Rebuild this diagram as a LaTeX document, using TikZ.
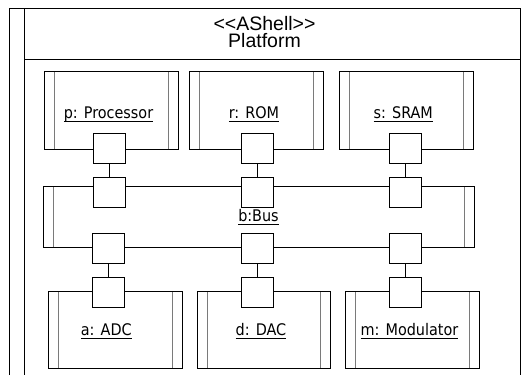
\documentclass[tikz,border=0pt]{standalone}
\usepackage{fontspec}
\setmainfont{Liberation Sans}
\newfontfamily\labfont{DejaVu Sans Condensed}
\newfontfamily\hdrfont{Liberation Sans}
\newcommand\myul[1]{\setbox0\hbox{#1}\rlap{\rule[-3.6pt]{\wd0}{0.9pt}}\box0}
\definecolor{bargray}{HTML}{7A7A7A}
\tikzset{
  partbox/.style={draw=black, line width=1pt, fill=white, inner sep=0pt, outer sep=0pt,
    minimum width=134pt, minimum height=78pt,
    path picture={
      \draw[bargray, line width=1pt]
        ([xshift=10pt]path picture bounding box.north west) -- ([xshift=10pt]path picture bounding box.south west)
        ([xshift=-10pt]path picture bounding box.north east) -- ([xshift=-10pt]path picture bounding box.south east);
    }},
  portbox/.style={draw=black, line width=1pt, fill=white, inner sep=0pt, outer sep=0pt,
    minimum width=32pt, minimum height=30pt},
  conn/.style={draw=black, line width=1pt},
  framel/.style={draw=black, line width=1pt},
  lab/.style={font=\labfont\fontsize{16}{19}\selectfont, anchor=base, inner sep=0pt},
  hdr/.style={font=\hdrfont\fontsize{19.5}{17}\selectfont, anchor=base, inner sep=0pt}
}
\begin{document}
\begin{tikzpicture}[x=1pt, y=-1pt]
\useasboundingbox (0,0) rectangle (527,375);
% outer frame
\draw[framel] (9,375) -- (9,8) -- (520,8) -- (520,375);
\draw[framel] (24,8) -- (24,375);
\draw[framel] (24,59) -- (520,59);
\node[hdr] (hd1) at (264.5,30) {<<AShell>>};
\node[hdr] (hd2) at (264.5,47.5) {Platform};
% parts
\node[partbox] (proc) at (111,110) {};
\node[partbox] (rom) at (256,110) {};
\node[partbox] (sram) at (406,110) {};
\node[partbox, minimum width=431pt, minimum height=61pt] (bus) at (258.5,216.5) {};
\node[partbox, minimum height=77pt] (adc) at (115,329.5) {};
\node[partbox, minimum width=133pt, minimum height=77pt] (dac) at (263.5,329.5) {};
\node[partbox, minimum height=77pt] (mod) at (412,329.5) {};
% labels
\node[lab] (lproc) at (108.5,118) {\myul{p: Processor}};
\node[lab] (lrom) at (254,118) {\myul{r: ROM}};
\node[lab] (lsram) at (403.3,118) {\myul{s: SRAM}};
\node[lab] (lbus) at (258.5,221) {\myul{b:Bus}};
\node[lab] (ladc) at (106.3,335.5) {\myul{a: ADC}};
\node[lab] (ldac) at (261,335.5) {\myul{d: DAC}};
\node[lab] (lmod) at (409.5,335) {\myul{m: Modulator}};
% ports
\node[portbox] (pp) at (109,148) {};
\node[portbox] (pr) at (257,148) {};
\node[portbox] (ps) at (405.5,148) {};
\node[portbox] (bt1) at (109,192) {};
\node[portbox] (bt2) at (257,192) {};
\node[portbox] (bt3) at (405.5,192) {};
\node[portbox] (bb1) at (108.5,248) {};
\node[portbox] (bb2) at (257,248) {};
\node[portbox] (bb3) at (405.5,248) {};
\node[portbox] (pa) at (108.5,292) {};
\node[portbox] (pd) at (257,292) {};
\node[portbox] (pm) at (405.5,292) {};
% connectors
\draw[conn] (pp.south) -- (bt1.north);
\draw[conn] (pr.south) -- (bt2.north);
\draw[conn] (ps.south) -- (bt3.north);
\draw[conn] (bb1.south) -- (pa.north);
\draw[conn] (bb2.south) -- (pd.north);
\draw[conn] (bb3.south) -- (pm.north);
\end{tikzpicture}
\end{document}
